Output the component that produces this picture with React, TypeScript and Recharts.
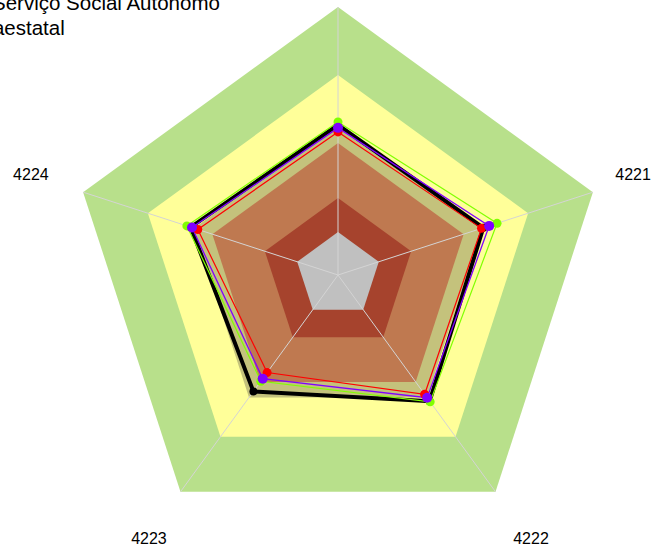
import React from 'react';
import { RadarChart, Radar, PolarGrid, PolarAngleAxis, PolarRadiusAxis } from 'recharts';

const categories = ['4225', '4221', '4222', '4223', '4224'];
const bandLevels = [100, 74.6, 56.5, 49.3, 28.7, 16];
const blackSeries = [56, 57, 58.2, 53.7, 57.8];
const redSeries = [53.4, 56.3, 55, 45, 55];
const greenSeries = [57.1, 62.4, 58.5, 49, 59.3];
const violetSeries = [54.9, 59.3, 56.6, 47.8, 57.3];
const legendLabels = ['Serviço Social Autônomo', 'Paraestatal'];

const bandColors = ['#B8E08B', '#FFFF99', '#C4C27C', '#BF7950', '#A6432D', '#C0C0C0'];

const data = categories.map((c, i) => {
  const row: any = { cat: c, s_black: blackSeries[i], s_red: redSeries[i], s_green: greenSeries[i], s_violet: violetSeries[i] };
  bandLevels.forEach((v, j) => { row['band' + j] = v; });
  return row;
});

const Tick = (props: any) => {
  const { x, y, payload, cx } = props;
  const shift = cx != null && x - cx > 250 ? -14 : 2;
  return (
    <text x={x} y={y} dx={shift} textAnchor="middle" dy="0.35em" fontSize={16} fill="#000" fontFamily="'Liberation Sans', Arial, sans-serif">
      {payload.value}
    </text>
  );
};

const makeDot = (color: string, r: number) => (p: any) => {
  if (p == null || p.cx == null || p.cy == null) return <g key={'e' + Math.random()} />;
  return <circle key={color + '-' + p.index} cx={p.cx} cy={p.cy} r={r} fill={color} stroke="none" />;
};

export default function App() {
  return (
    <div style={{ position: 'absolute', left: 0, top: 0, width: 661, height: 547, overflow: 'hidden', background: '#fff' }}>
      <RadarChart width={661} height={547} data={data} cx={338} cy={275} outerRadius={268} margin={{ top: 0, right: 0, bottom: 0, left: 0 }}>
        <PolarRadiusAxis domain={[0, 100]} tick={false} axisLine={false} />
        {bandLevels.map((_, j) => (
          <Radar key={'band' + j} dataKey={'band' + j} fill={bandColors[j]} fillOpacity={1} stroke="none" dot={false} isAnimationActive={false} zIndex={-200} />
        ))}
        <PolarGrid gridType="polygon" polarRadius={[]} stroke="#d4d4d4" strokeWidth={1} zIndex={-100} />
        <PolarAngleAxis dataKey="cat" tick={<Tick />} tickLine={false} axisLine={false} tickSize={57} />
        <Radar dataKey="s_black" stroke="#000" strokeWidth={4} fill="none" fillOpacity={0} dot={makeDot('#000', 4)} isAnimationActive={false} />
        <Radar dataKey="s_red" stroke="#FF0000" strokeWidth={1.2} fill="none" fillOpacity={0} dot={makeDot('#FF0000', 4.5)} isAnimationActive={false} />
        <Radar dataKey="s_green" stroke="#80FF00" strokeWidth={1.2} fill="none" fillOpacity={0} dot={makeDot('#80FF00', 4.5)} isAnimationActive={false} />
        <Radar dataKey="s_violet" stroke="#8000FF" strokeWidth={1.3} fill="none" fillOpacity={0} dot={makeDot('#8000FF', 5)} isAnimationActive={false} />
      </RadarChart>
      <svg width={661} height={547} style={{ position: 'absolute', left: 0, top: 0, pointerEvents: 'none' }}>
        {legendLabels.map((t, i) => (
          <text key={t} x={i === 0 ? -8 : -39} y={10 + i * 25} fontSize={20.5} fill="#000" fontFamily="'Liberation Sans', Arial, sans-serif">
            {t}
          </text>
        ))}
      </svg>
    </div>
  );
}
